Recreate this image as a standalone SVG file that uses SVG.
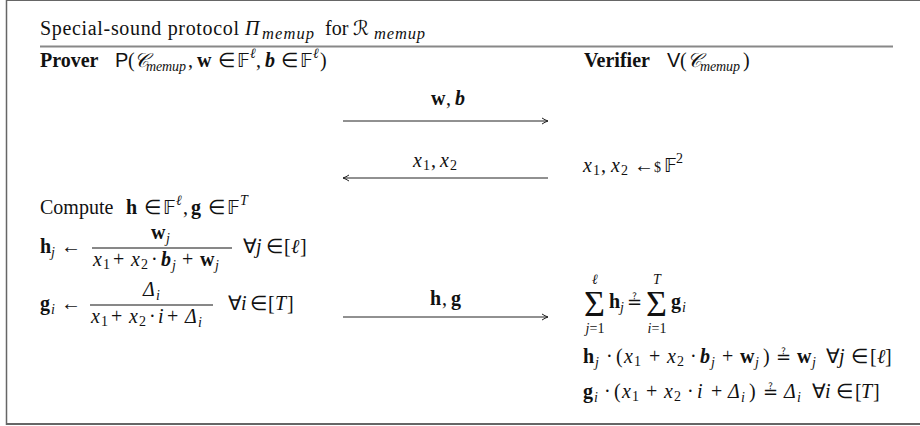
<svg xmlns="http://www.w3.org/2000/svg" width="920" height="426" viewBox="0 0 920 426">
<style>
text{font-family:"Liberation Serif","Times New Roman",serif;font-size:20px;fill:#111}
.i{font-style:italic}
.b{font-weight:bold}
.bi{font-weight:bold;font-style:italic}
.s{font-size:14px}
.m{font-size:16.5px;font-style:italic}
.sf{font-family:"Liberation Sans",Arial,sans-serif}
.bb{font-family:"DejaVu Sans","Noto Sans",sans-serif;font-size:19px}
.sc{font-family:"DejaVu Sans","Noto Sans",sans-serif;font-style:italic}
.rel{font-family:"DejaVu Sans","Noto Sans",sans-serif;font-size:18px}
.big{font-size:36px}
.frame{stroke:#666;fill:none}
.conn{stroke:#222;stroke-width:1;fill:none}
</style>
<defs>
<marker id="ah" viewBox="0 0 8 8" refX="7" refY="4" markerWidth="8" markerHeight="8" markerUnits="userSpaceOnUse" orient="auto-start-reverse">
<path d="M1,1 Q4,3 7,4 Q4,5 1,7" fill="none" stroke="#222" stroke-width="1"/>
</marker>
</defs>
<g id="frame">
<line class="frame" x1="6" y1="0.5" x2="920" y2="0.5" stroke-width="1.2"/>
<line class="frame" x1="6.5" y1="0" x2="6.5" y2="425" stroke-width="1.5"/>
<line class="frame" x1="6" y1="424" x2="920" y2="424" stroke-width="2"/>
<line x1="40" y1="46.5" x2="893" y2="46.5" stroke="#888" stroke-width="1.8"/>
</g>
<g id="title">
<text y="35"><tspan x="40" textLength="199">Special-sound protocol</tspan><tspan x="245" class="i">Π</tspan><tspan x="262" y="39" class="m" textLength="52">memup</tspan><tspan x="325" y="35">for</tspan><tspan x="353" class="sc">ℛ</tspan><tspan x="374" y="39" class="m" textLength="51">memup</tspan></text>
</g>
<g id="prover">
<text y="67"><tspan x="40" class="b">Prover</tspan><tspan x="115" class="sf">P</tspan><tspan x="128">(</tspan><tspan x="134" class="sc">𝒞</tspan><tspan x="146" y="71" class="i s" textLength="40">memup</tspan><tspan x="188" y="67">,</tspan><tspan x="197" class="b">w</tspan><tspan x="218">∈</tspan><tspan x="237" class="bb">𝔽</tspan><tspan x="250" y="58" class="i s">ℓ</tspan><tspan x="256" y="67">,</tspan><tspan x="265" class="bi">b</tspan><tspan x="281">∈</tspan><tspan x="300" class="bb">𝔽</tspan><tspan x="313" y="58" class="i s">ℓ</tspan><tspan x="320" y="67">)</tspan></text>
</g>
<g id="verifier">
<text y="67"><tspan x="584" class="b">Verifier</tspan><tspan x="667" class="sf">V</tspan><tspan x="680">(</tspan><tspan x="687" class="sc">𝒞</tspan><tspan x="700" y="71" class="i s" textLength="40">memup</tspan><tspan x="743" y="67">)</tspan></text>
</g>
<g id="connectors">
<line class="conn" x1="343" y1="121" x2="548" y2="121" marker-end="url(#ah)"/>
<line class="conn" x1="548" y1="178" x2="343" y2="178" marker-end="url(#ah)"/>
<line class="conn" x1="343" y1="317" x2="548" y2="317" marker-end="url(#ah)"/>
<text y="105"><tspan x="431" class="b">w</tspan><tspan x="446">,</tspan><tspan x="455" class="bi">b</tspan></text>
<text y="167"><tspan x="413" class="i">x</tspan><tspan x="423" y="170" class="s">1</tspan><tspan x="431" y="167">,</tspan><tspan x="440" class="i">x</tspan><tspan x="450" y="170" class="s">2</tspan></text>
<text y="305"><tspan x="430" class="b">h</tspan><tspan x="442">,</tspan><tspan x="451" class="b">g</tspan></text>
</g>
<g id="verifier-challenge">
<text y="172"><tspan x="583" class="i">x</tspan><tspan x="593" y="175" class="s">1</tspan><tspan x="601" y="172">,</tspan><tspan x="611" class="i">x</tspan><tspan x="621" y="175" class="s">2</tspan><tspan x="634" y="172">←</tspan><tspan x="654" class="s">$</tspan><tspan x="664" class="bb">𝔽</tspan><tspan x="676" y="163" class="s">2</tspan></text>
</g>
<g id="prover-compute">
<text y="214"><tspan x="40">Compute</tspan><tspan x="126" class="b">h</tspan><tspan x="144">∈</tspan><tspan x="163" class="bb">𝔽</tspan><tspan x="176" y="205" class="i s">ℓ</tspan><tspan x="183" y="214">,</tspan><tspan x="191" class="b">g</tspan><tspan x="208">∈</tspan><tspan x="227" class="bb">𝔽</tspan><tspan x="240" y="205" class="i s">T</tspan></text>
<text y="253"><tspan x="40" class="b">h</tspan><tspan x="51" y="257" class="i s">j</tspan><tspan x="61" y="253">←</tspan><tspan x="243">∀</tspan><tspan x="256" class="i">j</tspan><tspan x="266">∈</tspan><tspan x="284">[</tspan><tspan x="291" class="i">ℓ</tspan><tspan x="300">]</tspan></text>
<line x1="92" y1="248" x2="232" y2="248" stroke="#111" stroke-width="1"/>
<text y="239"><tspan x="151" class="b">w</tspan><tspan x="166" y="243" class="i s">j</tspan></text>
<text y="266"><tspan x="93" class="i">x</tspan><tspan x="103" y="269" class="s">1</tspan><tspan x="113" y="266">+</tspan><tspan x="131" class="i">x</tspan><tspan x="141" y="269" class="s">2</tspan><tspan x="151" y="266">·</tspan><tspan x="161" class="bi">b</tspan><tspan x="172" y="270" class="i s">j</tspan><tspan x="182" y="266">+</tspan><tspan x="200" class="b">w</tspan><tspan x="215" y="270" class="i s">j</tspan></text>
<text y="310"><tspan x="40" class="b">g</tspan><tspan x="51" y="314" class="i s">i</tspan><tspan x="61" y="310">←</tspan><tspan x="228">∀</tspan><tspan x="241" class="i">i</tspan><tspan x="250">∈</tspan><tspan x="268">[</tspan><tspan x="275" class="i">T</tspan><tspan x="287">]</tspan></text>
<line x1="90" y1="305" x2="213" y2="305" stroke="#111" stroke-width="1"/>
<text y="296"><tspan x="143" class="i">Δ</tspan><tspan x="156" y="300" class="i s">i</tspan></text>
<text y="323"><tspan x="91" class="i">x</tspan><tspan x="101" y="326" class="s">1</tspan><tspan x="111" y="323">+</tspan><tspan x="129" class="i">x</tspan><tspan x="139" y="326" class="s">2</tspan><tspan x="149" y="323">·</tspan><tspan x="158" class="i">i</tspan><tspan x="167">+</tspan><tspan x="185" class="i">Δ</tspan><tspan x="198" y="327" class="i s">i</tspan></text>
</g>
<g id="verifier-checks">
<text y="316" class="big"><tspan x="584">Σ</tspan><tspan x="646">Σ</tspan></text>
<text y="284" class="s i" text-anchor="middle"><tspan x="595">ℓ</tspan><tspan x="657">T</tspan></text>
<text y="333" class="s" text-anchor="middle"><tspan x="595"><tspan class="i">j</tspan>=1</tspan><tspan x="657"><tspan class="i">i</tspan>=1</tspan></text>
<text y="308"><tspan x="609" class="b">h</tspan><tspan x="620" y="312" class="i s">j</tspan><tspan x="627" y="308" class="rel">≟</tspan><tspan x="671" class="b">g</tspan><tspan x="682" y="312" class="i s">i</tspan></text>
<text y="363"><tspan x="583" class="b">h</tspan><tspan x="595" y="367" class="i s">j</tspan><tspan x="606" y="363">·</tspan><tspan x="616">(</tspan><tspan x="624" class="i">x</tspan><tspan x="634" y="366" class="s">1</tspan><tspan x="649" y="363">+</tspan><tspan x="667" class="i">x</tspan><tspan x="677" y="366" class="s">2</tspan><tspan x="690" y="363">·</tspan><tspan x="700" class="bi">b</tspan><tspan x="711" y="367" class="i s">j</tspan><tspan x="722" y="363">+</tspan><tspan x="740" class="b">w</tspan><tspan x="755" y="367" class="i s">j</tspan><tspan x="763" y="363">)</tspan><tspan x="776" class="rel">≟</tspan><tspan x="797" class="b">w</tspan><tspan x="812" y="367" class="i s">j</tspan><tspan x="826" y="363">∀</tspan><tspan x="839" class="i">j</tspan><tspan x="851">∈</tspan><tspan x="870">[</tspan><tspan x="877" class="i">ℓ</tspan><tspan x="885">]</tspan></text>
<text y="398"><tspan x="583" class="b">g</tspan><tspan x="594" y="402" class="i s">i</tspan><tspan x="604" y="398">·</tspan><tspan x="614">(</tspan><tspan x="622" class="i">x</tspan><tspan x="632" y="401" class="s">1</tspan><tspan x="646" y="398">+</tspan><tspan x="664" class="i">x</tspan><tspan x="674" y="401" class="s">2</tspan><tspan x="687" y="398">·</tspan><tspan x="697" class="i">i</tspan><tspan x="711">+</tspan><tspan x="728" class="i">Δ</tspan><tspan x="741" y="402" class="i s">i</tspan><tspan x="749" y="398">)</tspan><tspan x="763" class="rel">≟</tspan><tspan x="784" class="i">Δ</tspan><tspan x="797" y="402" class="i s">i</tspan><tspan x="812" y="398">∀</tspan><tspan x="825" class="i">i</tspan><tspan x="836">∈</tspan><tspan x="855">[</tspan><tspan x="861" class="i">T</tspan><tspan x="873">]</tspan></text>
</g>
</svg>
